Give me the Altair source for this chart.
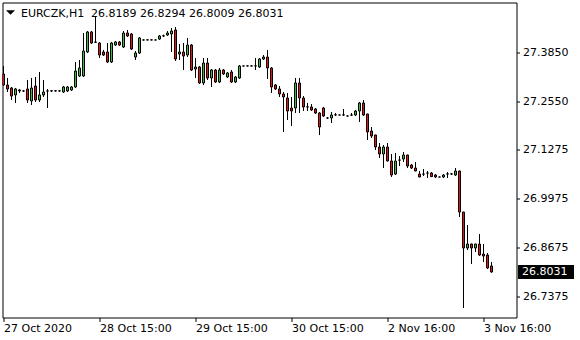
import altair as alt
import pandas as pd
import numpy as np

# ---- data (EURCZK, H1) ----
opens = [
    27.3275, 27.2984, 27.2904, 27.2719, 27.2851, 27.2825, 27.2878, 27.2560, 27.2957, 27.2586,
    27.2719, 27.2825, 27.2825, 27.2830, 27.2825, 27.2798, 27.2825, 27.2851, 27.2931, 27.3222,
    27.3222, 27.3858, 27.4388, 27.4123, 27.4096, 27.3858, 27.3858, 27.3593, 27.4043, 27.4123,
    27.3990, 27.4361, 27.4335, 27.3725, 27.3831, 27.4176, 27.4176, 27.4179, 27.4176, 27.4202,
    27.4282, 27.4308, 27.4335, 27.4441, 27.3805, 27.3858, 27.3778, 27.4043, 27.3407, 27.3460,
    27.3037, 27.3566, 27.3169, 27.3381, 27.3063, 27.3381, 27.3196, 27.3328, 27.3063, 27.3169,
    27.3487, 27.3487, 27.3490, 27.3487, 27.3460, 27.3672, 27.3725, 27.3434, 27.2984, 27.2878,
    27.2745, 27.2639, 27.2374, 27.2374, 27.3037, 27.2639, 27.2401, 27.2401, 27.2348, 27.2242,
    27.2374, 27.2109, 27.2109, 27.2189, 27.2189, 27.2189, 27.2162, 27.2189, 27.2189, 27.2295,
    27.2507, 27.2215, 27.1765, 27.1659, 27.1341, 27.1155, 27.1341, 27.0970, 27.0625, 27.0996,
    27.1023, 27.1129, 27.0864, 27.0784, 27.0625, 27.0625, 27.0652, 27.0652, 27.0599, 27.0546,
    27.0546, 27.0625, 27.0625, 27.0599, 27.0705, 26.9618, 26.8665, 26.8771, 26.8665, 26.8771,
    26.8506, 26.8479, 26.8189,
]
highs = [
    27.3487, 27.3169, 27.2931, 27.2904, 27.2878, 27.2851, 27.3116, 27.3169, 27.3196, 27.3328,
    27.3116, 27.2878, 27.2851, 27.2851, 27.2840, 27.2957, 27.2957, 27.2957, 27.3593, 27.3646,
    27.4361, 27.4414, 27.4414, 27.4785, 27.4123, 27.3911, 27.4096, 27.4123, 27.4149, 27.4149,
    27.4414, 27.4441, 27.4361, 27.3884, 27.4255, 27.4190, 27.4185, 27.4190, 27.4188, 27.4308,
    27.4320, 27.4414, 27.4494, 27.4520, 27.4070, 27.4096, 27.4229, 27.4070, 27.3699, 27.3487,
    27.3699, 27.3699, 27.3407, 27.3407, 27.3434, 27.3407, 27.3328, 27.3381, 27.3222, 27.3513,
    27.3495, 27.3498, 27.3500, 27.3699, 27.3699, 27.3778, 27.3911, 27.3460, 27.3010, 27.2957,
    27.2798, 27.2772, 27.2666, 27.3169, 27.3169, 27.2692, 27.2507, 27.2480, 27.2374, 27.2268,
    27.2401, 27.2136, 27.2268, 27.2242, 27.2200, 27.2348, 27.2175, 27.2242, 27.2321, 27.2533,
    27.2586, 27.2220, 27.1871, 27.1665, 27.1447, 27.1394, 27.1447, 27.1155, 27.1182, 27.1102,
    27.1208, 27.1135, 27.0890, 27.0943, 27.0705, 27.0758, 27.0705, 27.0678, 27.0625, 27.0555,
    27.0625, 27.0678, 27.0652, 27.0784, 27.0712, 26.9625, 26.9274, 26.8780, 26.8780, 26.9036,
    26.8771, 26.8532, 26.8294,
]
lows = [
    27.2957, 27.2798, 27.2586, 27.2507, 27.2772, 27.2798, 27.2507, 27.2454, 27.2533, 27.2533,
    27.2666, 27.2374, 27.2798, 27.2810, 27.2810, 27.2772, 27.2798, 27.2825, 27.2904, 27.3196,
    27.3196, 27.3831, 27.4070, 27.4096, 27.3699, 27.3752, 27.3566, 27.3566, 27.4017, 27.4017,
    27.3964, 27.4255, 27.3911, 27.3646, 27.3805, 27.4165, 27.4168, 27.4165, 27.4168, 27.4176,
    27.4255, 27.4282, 27.3858, 27.3619, 27.3646, 27.3381, 27.3725, 27.3354, 27.3169, 27.3010,
    27.2984, 27.3116, 27.2931, 27.3037, 27.3037, 27.3248, 27.3169, 27.3037, 27.3037, 27.3143,
    27.3480, 27.3478, 27.3480, 27.3381, 27.3434, 27.3646, 27.3143, 27.2772, 27.2851, 27.2666,
    27.1738, 27.2057, 27.1897, 27.2242, 27.2242, 27.2295, 27.2295, 27.2295, 27.2215, 27.1659,
    27.2136, 27.2083, 27.1977, 27.2162, 27.2180, 27.2162, 27.2150, 27.2162, 27.2162, 27.2004,
    27.2162, 27.1526, 27.1579, 27.1261, 27.1049, 27.0784, 27.0960, 27.0546, 27.0599, 27.0837,
    27.0943, 27.0784, 27.0758, 27.0700, 27.0540, 27.0572, 27.0519, 27.0546, 27.0519, 27.0540,
    27.0519, 27.0519, 27.0599, 27.0572, 26.9486, 26.7075, 26.8612, 26.8241, 26.8559, 26.8453,
    26.8294, 26.8108, 26.8009,
]
closes = [
    27.2984, 27.2878, 27.2692, 27.2878, 27.2825, 27.2822, 27.2586, 27.2904, 27.2586, 27.2719,
    27.2798, 27.2822, 27.2830, 27.2825, 27.2828, 27.2931, 27.2931, 27.2931, 27.3354, 27.3434,
    27.3884, 27.4388, 27.4096, 27.4118, 27.3778, 27.3778, 27.3593, 27.4096, 27.4123, 27.4043,
    27.4361, 27.4282, 27.3937, 27.3831, 27.4229, 27.4176, 27.4179, 27.4176, 27.4176, 27.4282,
    27.4285, 27.4361, 27.4414, 27.3672, 27.3858, 27.3752, 27.4043, 27.3381, 27.3460, 27.3037,
    27.3566, 27.3169, 27.3381, 27.3063, 27.3381, 27.3275, 27.3301, 27.3063, 27.3196, 27.3487,
    27.3487, 27.3490, 27.3487, 27.3490, 27.3672, 27.3725, 27.3434, 27.2931, 27.2878, 27.2745,
    27.2666, 27.2295, 27.2295, 27.3037, 27.2639, 27.2401, 27.2404, 27.2321, 27.2242, 27.1871,
    27.2162, 27.2109, 27.2189, 27.2192, 27.2189, 27.2192, 27.2162, 27.2186, 27.2295, 27.2507,
    27.2189, 27.1738, 27.1632, 27.1341, 27.1155, 27.1341, 27.0970, 27.0599, 27.0970, 27.0993,
    27.1129, 27.0837, 27.0784, 27.0705, 27.0546, 27.0622, 27.0649, 27.0555, 27.0546, 27.0546,
    27.0599, 27.0628, 27.0628, 27.0705, 26.9618, 26.8665, 26.8771, 26.8665, 26.8771, 26.8479,
    26.8453, 26.8135, 26.8031,
]
y_ticks = [26.7375, 26.8675, 26.9975, 27.1275, 27.2550, 27.3850]
x_tick_idx = [0, 24, 48, 72, 96, 120]
x_tick_labels = ["27 Oct 2020", "28 Oct 15:00", "29 Oct 15:00", "30 Oct 15:00",
                 "2 Nov 16:00", "3 Nov 16:00"]
symbol = "EURCZK,H1"

FONT = "DejaVu Sans"
GREEN = "#3cbc3c"
RED = "#e41414"

n = len(opens)
df = pd.DataFrame({"i": np.arange(n), "open": opens, "high": highs,
                   "low": lows, "close": closes})
df["dir"] = np.where(df["close"] > df["open"], "up", "down")

xs = alt.Scale(domain=[-0.25, 128.25], nice=False, zero=False, padding=0)
ys = alt.Scale(domain=[26.6824, 27.5169], nice=False, zero=False, padding=0)

label_expr = ("[" + ",".join("'%s'" % t for t in x_tick_labels) + "][indexof(["
              + ",".join(str(v) for v in x_tick_idx) + "], datum.value)]")

x_axis = alt.Axis(values=x_tick_idx, labelExpr=label_expr, orient="bottom", grid=False,
                  domain=False, ticks=True, tickSize=4, tickColor="black",
                  labelAlign="left", labelBaseline="top", labelPadding=1,
                  labelFlush=False, labelOverlap=False, labelBound=False,
                  labelFont=FONT, labelFontSize=11, labelColor="black", title=None)
y_axis = alt.Axis(values=y_ticks, format=".4f", orient="right", grid=False,
                  domain=False, ticks=True, tickSize=3, tickColor="black",
                  labelPadding=3, labelFlush=False, labelOverlap=False, labelBound=False,
                  labelFont=FONT, labelFontSize=11, labelColor="black", title=None)

base = alt.Chart(df)
wicks = base.mark_rule(color="black", strokeWidth=1, clip=True).encode(
    x=alt.X("i:Q", scale=xs, axis=x_axis),
    y=alt.Y("low:Q", scale=ys, axis=y_axis),
    y2="high:Q",
)
bodies = base.mark_bar(size=2, stroke="black", strokeWidth=1, clip=True).encode(
    x=alt.X("i:Q", scale=xs),
    y=alt.Y("open:Q", scale=ys),
    y2="close:Q",
    color=alt.Color("dir:N", scale=alt.Scale(domain=["up", "down"], range=[GREEN, RED]),
                    legend=None),
)

hdr = pd.DataFrame({"sym": [symbol],
                    "vals": [" ".join("%.4f" % v for v in (opens[-1], highs[-1], lows[-1], closes[-1]))]})
sym_text = alt.Chart(hdr).mark_text(align="left", baseline="alphabetic", font=FONT,
                                    fontSize=11, color="black").encode(
    x=alt.value(18.5), y=alt.value(14), text="sym:N")
val_text = alt.Chart(hdr).mark_text(align="left", baseline="alphabetic", font=FONT,
                                    fontSize=11, color="black").encode(
    x=alt.value(88.5), y=alt.value(14), text="vals:N")
tri = alt.Chart(hdr).mark_point(shape="M-1,-0.5L1,-0.5L0,0.5Z", filled=True, size=81,
                                color="black", opacity=1).encode(
    x=alt.value(8), y=alt.value(10))

last = pd.DataFrame({"p": [closes[-1]]})
pbox = alt.Chart(last).mark_tick(orient="horizontal", size=56, thickness=14,
                                 color="black", opacity=1).encode(
    x=alt.value(543.5), y=alt.Y("p:Q", scale=ys))
ptext = alt.Chart(last).mark_text(align="left", baseline="middle", font=FONT,
                                  fontSize=11, color="white").encode(
    x=alt.value(519.5), y=alt.Y("p:Q", scale=ys), text=alt.Text("p:Q", format=".4f"))

chart = alt.layer(wicks, bodies, sym_text, val_text, tri, pbox, ptext).properties(
    width=514, height=315,
    padding={"left": 2.5, "top": 2.5, "right": 63.5, "bottom": 22.5},
    autosize="none",
    background="white",
).configure_view(stroke="black", strokeWidth=1)

chart.save("out.html", embed_options={"renderer": "svg", "actions": False})
